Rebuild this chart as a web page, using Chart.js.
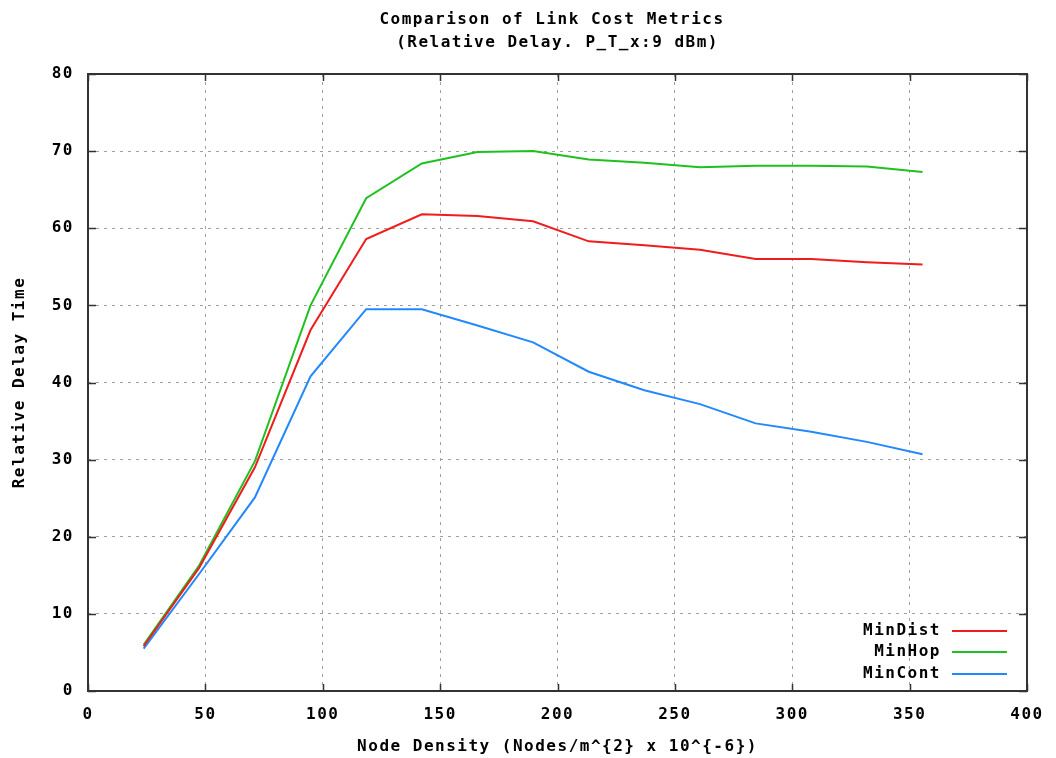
<!DOCTYPE html>
<html>
<head>
<meta charset="utf-8">
<title>Comparison of Link Cost Metrics</title>
<script src="https://cdn.jsdelivr.net/npm/chart.js@4.4.1/dist/chart.umd.min.js"></script>
<style>
    html, body { margin: 0; padding: 0; background: #ffffff; }
    #chart { display: block; }
</style>
</head>
<body>
<canvas id="chart" width="1056" height="758"></canvas>
<script>
// Chart data
const density = [23.7, 47.4, 71.1, 94.8, 118.5, 142.2, 165.9, 189.6, 213.3, 237.0, 260.7, 284.4, 308.1, 331.8, 355.5];
const minDist = [5.8, 16.0, 29.0, 46.8, 58.6, 61.8, 61.6, 60.9, 58.3, 57.8, 57.2, 56.0, 56.0, 55.6, 55.3];
const minHop  = [6.0, 16.3, 29.8, 50.0, 63.9, 68.4, 69.9, 70.0, 68.9, 68.5, 67.9, 68.1, 68.1, 68.0, 67.3];
const minCont = [5.5, 15.2, 25.1, 40.8, 49.5, 49.5, 47.4, 45.2, 41.4, 39.0, 37.2, 34.7, 33.6, 32.3, 30.7];

const seriesNames = ['MinDist', 'MinHop', 'MinCont'];
const titleLines = ['Comparison of Link Cost Metrics', ' (Relative Delay. P_T_x:9 dBm)'];
const xTitle = 'Node Density (Nodes/m^{2} x 10^{-6})';
const yTitle = 'Relative Delay Time';

const FONT = '"DejaVu Sans Mono", "Liberation Mono", monospace';
const SPACING = '1.5px';

function toPoints(values) {
    return values.map((v, i) => ({ x: density[i], y: v }));
}

// White background, letter spacing, frame, ticks, title and legend
const framePlugin = {
    id: 'frame',
    beforeDraw(chart) {
        const ctx = chart.ctx;
        ctx.save();
        ctx.fillStyle = '#ffffff';
        ctx.fillRect(0, 0, chart.width, chart.height);
        ctx.restore();
        ctx.letterSpacing = SPACING;
    },
    afterDraw(chart) {
        const ctx = chart.ctx;
        const area = chart.chartArea;
        const xs = chart.scales.x;
        const ys = chart.scales.y;

        ctx.save();
        // border round the plot
        ctx.strokeStyle = '#333333';
        ctx.lineWidth = 2;
        ctx.strokeRect(area.left, area.top, area.right - area.left, area.bottom - area.top);

        // inward ticks, mirrored
        ctx.lineWidth = 1.5;
        ctx.beginPath();
        xs.ticks.forEach(t => {
            const px = Math.round(xs.getPixelForValue(t.value)) + 0.5;
            ctx.moveTo(px, area.bottom);
            ctx.lineTo(px, area.bottom - 7);
            ctx.moveTo(px, area.top);
            ctx.lineTo(px, area.top + 7);
        });
        ys.ticks.forEach(t => {
            const py = Math.round(ys.getPixelForValue(t.value)) + 0.5;
            ctx.moveTo(area.left, py);
            ctx.lineTo(area.left + 8, py);
            ctx.moveTo(area.right, py);
            ctx.lineTo(area.right - 8, py);
        });
        ctx.stroke();

        // title
        ctx.fillStyle = '#000000';
        ctx.font = 'bold 16px ' + FONT;
        ctx.textAlign = 'center';
        ctx.textBaseline = 'middle';
        ctx.fillText(titleLines[0], 552, 20);
        ctx.fillText(titleLines[1], 552, 43);

        // legend, bottom right inside the plot
        const rows = [631, 652, 674];
        chart.data.datasets.forEach((ds, i) => {
            ctx.textAlign = 'right';
            ctx.fillStyle = '#000000';
            ctx.fillText(ds.label, 941, rows[i]);
            ctx.strokeStyle = ds.borderColor;
            ctx.lineWidth = 2;
            ctx.beginPath();
            ctx.moveTo(952, rows[i]);
            ctx.lineTo(1007, rows[i]);
            ctx.stroke();
        });
        ctx.restore();
    }
};

const axisFont = { family: FONT, size: 16, weight: 'bold' };

const ctx = document.getElementById('chart');
new Chart(ctx, {
    type: 'line',
    data: {
        datasets: [
            { label: seriesNames[0], data: toPoints(minDist), borderColor: '#f01c1c' },
            { label: seriesNames[1], data: toPoints(minHop), borderColor: '#20c020' },
            { label: seriesNames[2], data: toPoints(minCont), borderColor: '#2288ff' }
        ]
    },
    options: {
        responsive: false,
        animation: false,
        devicePixelRatio: 1,
        layout: { padding: { top: 74, right: 29, left: 0, bottom: 0 } },
        elements: {
            line: { borderWidth: 2, tension: 0, fill: false },
            point: { radius: 0, hoverRadius: 0 }
        },
        plugins: {
            legend: { display: false },
            title: { display: false },
            tooltip: { enabled: false }
        },
        scales: {
            x: {
                type: 'linear',
                min: 0,
                max: 400,
                afterFit(scale) { scale.height = 67; },
                ticks: {
                    stepSize: 50,
                    color: '#000000',
                    padding: 14,
                    font: axisFont
                },
                grid: { color: '#a0a0a0', lineWidth: 1, drawTicks: false },
                border: { display: false, dash: [3, 5] },
                title: {
                    display: true,
                    text: xTitle,
                    color: '#000000',
                    padding: { top: 0, bottom: 2 },
                    font: axisFont
                }
            },
            y: {
                min: 0,
                max: 80,
                afterFit(scale) { scale.width = 88; },
                ticks: {
                    stepSize: 10,
                    color: '#000000',
                    padding: 14,
                    font: axisFont
                },
                grid: { color: '#a0a0a0', lineWidth: 1, drawTicks: false },
                border: { display: false, dash: [3, 5] },
                title: {
                    display: true,
                    text: yTitle,
                    color: '#000000',
                    padding: { top: 10, bottom: 0 },
                    font: axisFont
                }
            }
        }
    },
    plugins: [framePlugin]
});
</script>
</body>
</html>
